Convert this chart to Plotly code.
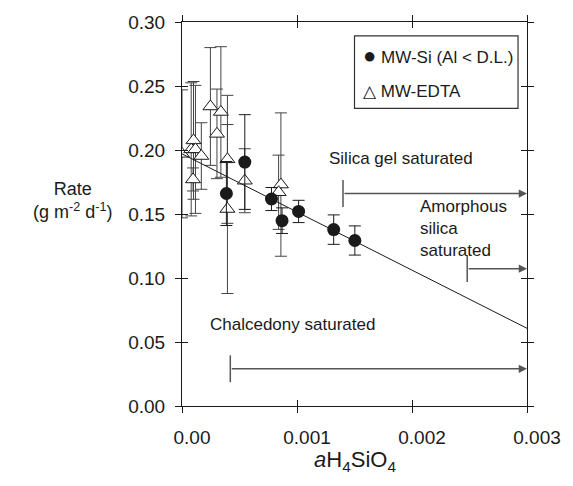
import plotly.graph_objects as go

# ---- data ----
si_x = [0.000386, 0.000546, 0.000778, 0.00087, 0.001014, 0.001319, 0.001503]
si_y = [0.166, 0.1906, 0.1617, 0.1448, 0.152, 0.1378, 0.1293]
si_err = [0.025, 0.037, 0.009, 0.010, 0.0087, 0.0115, 0.0114]

edta_x = [0.0, 0.00008, 0.0001, 0.000096, 0.000117, 0.000168, 0.000247,
          0.000338, 0.000304, 0.000395, 0.000395, 0.000546, 0.00086, 0.00084]
edta_y = [0.197, 0.2005, 0.2075, 0.177, 0.2005, 0.1953, 0.234,
          0.2297, 0.2126, 0.1927, 0.1539, 0.176, 0.173, 0.167]
edta_err = [0.050, 0.052, 0.046, 0.009, 0.050, 0.026, 0.046,
            0.051, 0.035, 0.050, 0.066, 0.025, 0.056, 0.029]

fit_x = [0.0, 0.003]
fit_y = [0.197, 0.0607]

sat_labels = ["Silica gel saturated", "Amorphous<br>silica<br>saturated", "Chalcedony saturated"]
sat_x = [0.0014, 0.00248, 0.00042]
sat_y = [0.166, 0.1073, 0.0291]
sat_bar = 0.0105

x_ticks = [0.0, 0.001, 0.002, 0.003]
x_ticklabels = ["0.00", "0.001", "0.002", "0.003"]
y_ticks = [0.0, 0.05, 0.10, 0.15, 0.20, 0.25, 0.30]
y_ticklabels = ["0.00", "0.05", "0.10", "0.15", "0.20", "0.25", "0.30"]

FONT = "Liberation Sans, Arial, sans-serif"
INK = "#1a1a1a"
GRAY = "#555555"

fig = go.Figure()

fig.add_trace(go.Scatter(
    x=edta_x, y=edta_y, mode="markers", showlegend=False,
    error_y=dict(type="data", array=edta_err, color="#444444", thickness=1, width=6),
    marker=dict(symbol="triangle-up", size=13, color="white", line=dict(color=INK, width=1)),
))
fig.add_trace(go.Scatter(
    x=fit_x, y=fit_y, mode="lines", showlegend=False,
    line=dict(color=INK, width=1),
))
fig.add_trace(go.Scatter(
    x=si_x, y=si_y, mode="markers", showlegend=False,
    error_y=dict(type="data", array=si_err, color=INK, thickness=1, width=6),
    marker=dict(symbol="circle", size=13, color=INK, line=dict(width=0)),
))
# dummy trace for overlay axes (inside ticks)
fig.add_trace(go.Scatter(x=[None], y=[None], xaxis="x2", yaxis="y2",
                         showlegend=False, hoverinfo="skip"))

# saturation arrows
for lx, ly in zip(sat_x, sat_y):
    fig.add_shape(type="line", x0=lx, x1=lx, y0=ly - sat_bar, y1=ly + sat_bar,
                  xref="x", yref="y", line=dict(color=GRAY, width=1.5))
    fig.add_annotation(x=x_ticks[-1], y=ly, ax=lx, ay=ly, axref="x", ayref="y",
                       xref="x", yref="y", text="", showarrow=True,
                       arrowhead=2, arrowsize=1.1, arrowwidth=1.5, arrowcolor=GRAY)

txt_font = dict(family=FONT, size=17, color=INK)
fig.add_annotation(x=0.00126, y=0.193, text=sat_labels[0], showarrow=False,
                   xanchor="left", yanchor="middle", font=txt_font)
fig.add_annotation(x=0.00205, y=0.1384, text=sat_labels[1], showarrow=False,
                   xanchor="left", yanchor="middle", align="left", font=txt_font)
fig.add_annotation(x=0.00023, y=0.0633, text=sat_labels[2], showarrow=False,
                   xanchor="left", yanchor="middle", font=txt_font)

# legend box (manual)
fig.add_shape(type="rect", xref="paper", yref="paper",
              x0=0.5, x1=0.974, y0=0.775, y1=0.964,
              line=dict(color="#333333", width=1.2), fillcolor="white")
fig.add_annotation(xref="paper", yref="paper", x=0.52, y=0.914, xanchor="left",
                   yanchor="middle", showarrow=False,
                   text="<span style='font-size:22px'>●</span> MW-Si (Al &lt; D.L.)",
                   font=dict(family=FONT, size=17, color=INK))
fig.add_annotation(xref="paper", yref="paper", x=0.52, y=0.820, xanchor="left",
                   yanchor="middle", showarrow=False,
                   text="△ MW-EDTA", font=dict(family=FONT, size=17, color=INK))

# axis titles
fig.add_annotation(xref="paper", yref="paper", x=-0.318, y=0.534,
                   xanchor="center", yanchor="middle",
                   text="Rate<br>(g m<sup>-2</sup> d<sup>-1</sup>)", showarrow=False,
                   font=dict(family=FONT, size=18, color=INK))
fig.add_annotation(xref="paper", yref="paper", x=0.5, y=-0.143,
                   xanchor="center", yanchor="middle",
                   text="<i>a</i>H<sub>4</sub>SiO<sub>4</sub>", showarrow=False,
                   font=dict(family=FONT, size=22, color=INK))

axis_common = dict(showgrid=False, zeroline=False, showline=True, linecolor=INK,
                   linewidth=1, tickcolor=INK, ticklen=6, tickwidth=1)

fig.update_layout(
    width=573, height=486,
    margin=dict(l=182, r=39, t=20, b=80),
    paper_bgcolor="white", plot_bgcolor="white",
    showlegend=False,
    xaxis=dict(range=[0, 0.003], tickvals=x_ticks, ticktext=x_ticklabels,
               ticks="outside", mirror="ticks", ticklabelstandoff=8, ticklabelshift=10,
               tickfont=dict(family=FONT, size=19, color=INK), **axis_common),
    yaxis=dict(range=[0, 0.30], tickvals=y_ticks, ticktext=y_ticklabels,
               ticks="outside", mirror="ticks", ticklabelstandoff=6,
               tickfont=dict(family=FONT, size=19, color=INK), **axis_common),
    xaxis2=dict(range=[0, 0.003], tickvals=x_ticks, ticks="inside", mirror="ticks",
                showticklabels=False, overlaying="x", anchor="y2", **axis_common),
    yaxis2=dict(range=[0, 0.30], tickvals=y_ticks, ticks="inside", mirror="ticks",
                showticklabels=False, overlaying="y", anchor="x2", **axis_common),
)

fig.write_html("out.html", config={"displayModeBar": False},
               post_script="document.body.style.margin='0px';")
